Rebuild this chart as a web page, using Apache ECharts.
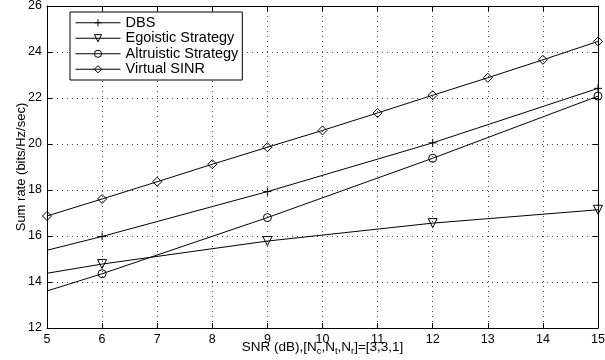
<!DOCTYPE html>
<html>
<head>
<meta charset="utf-8">
<script src="https://cdn.jsdelivr.net/npm/echarts@6/dist/echarts.min.js"></script>
<style>
  html, body { margin: 0; padding: 0; background: #fff; }
  #chart { width: 605px; height: 360px; }
</style>
</head>
<body>
<div id="chart"></div>
<script>
const snr = [5, 6, 7, 8, 9, 10, 11, 12, 13, 14, 15];
const dbsX = [5, 6, 9, 12, 15];
const dbs = [15.38, 15.98, 17.93, 20.05, 22.42];
const egoistic = [14.38, 14.78, 15.78, 16.56, 17.14];
const altruistic = [13.61, 14.36, 16.8, 19.38, 22.08];
const virtualSinr = [16.87, 17.61, 18.36, 19.12, 19.86, 20.59, 21.35, 22.12, 22.88, 23.66, 24.46];
const names = ['DBS', 'Egoistic Strategy', 'Altruistic Strategy', 'Virtual SINR'];

const font = 'Liberation Sans, Arial, sans-serif';
const plus = 'path://M0,5L10,5M5,0L5,10';
const triDown = 'path://M0,0L10,0L5,8.7Z';

// the first point sits on the y axis and carries no marker, except for Virtual SINR
function pts(xs, ys, markFirst) {
  return xs.map((x, i) => (i === 0 && !markFirst)
    ? { value: [x, ys[i]], symbol: 'none' }
    : [x, ys[i]]);
}

function line(name, data, symbol, size) {
  return {
    name, type: 'line', data, symbol, symbolSize: size,
    showAllSymbol: true,
    lineStyle: { color: '#000', width: 1 },
    itemStyle: { color: 'rgba(0,0,0,0)', borderColor: '#000', borderWidth: 1 },
    emphasis: { disabled: true },
    z: 3
  };
}

const chart = echarts.init(document.getElementById('chart'));

const tickStyle = { show: true, inside: true, length: 5, lineStyle: { color: '#000' } };
const gridLine = { show: true, lineStyle: { color: '#444', type: [1, 4], width: 1 } };

chart.setOption({
  animation: false,
  backgroundColor: '#fff',
  textStyle: { fontFamily: font },
  grid: { left: 47, right: 7, top: 6, bottom: 32, outerBoundsMode: 'none', containLabel: false },
  legend: {
    data: names,
    orient: 'vertical',
    left: 70, top: 12,
    itemWidth: 45, itemHeight: 9, itemGap: 0,
    padding: [3, 4, 3, 5],
    borderColor: '#000', borderWidth: 1,
    backgroundColor: '#fff',
    lineStyle: { width: 1, color: '#000' },
    itemStyle: { borderWidth: 1, borderColor: '#000', color: 'rgba(0,0,0,0)' },
    textStyle: { fontFamily: font, fontSize: 14.5, lineHeight: 15.5, color: '#000' }
  },
  xAxis: [{
    type: 'value', min: 5, max: 15, interval: 1,
    name: 'SNR (dB),[N{s|c},N{s|t},N{s|r}]=[3,3,1]',
    nameLocation: 'middle', nameGap: 11, nameMoveOverlap: false,
    nameTextStyle: {
      fontFamily: font, fontSize: 13.5, color: '#000',
      rich: { s: { fontSize: 9.5, fontFamily: font, color: '#000', padding: [7, 0, 0, 0] } }
    },
    axisLine: { show: true, lineStyle: { color: '#000' } },
    axisTick: tickStyle,
    axisLabel: { fontSize: 12.5, color: '#000', margin: 5, fontFamily: font },
    splitLine: gridLine
  }, {
    type: 'value', min: 5, max: 15, interval: 1, position: 'top',
    axisLine: { show: true, lineStyle: { color: '#000' } },
    axisTick: tickStyle, axisLabel: { show: false }, splitLine: { show: false }
  }],
  yAxis: [{
    type: 'value', min: 12, max: 26, interval: 2,
    name: 'Sum rate (bits/Hz/sec)',
    nameLocation: 'middle', nameGap: 19, nameRotate: 90, nameMoveOverlap: false,
    nameTextStyle: { fontFamily: font, fontSize: 13, color: '#000' },
    axisLine: { show: true, lineStyle: { color: '#000' } },
    axisTick: tickStyle,
    axisLabel: { fontSize: 12.5, color: '#000', margin: 5, fontFamily: font },
    splitLine: gridLine
  }, {
    type: 'value', min: 12, max: 26, interval: 2, position: 'right',
    axisLine: { show: true, lineStyle: { color: '#000' } },
    axisTick: tickStyle, axisLabel: { show: false }, splitLine: { show: false }
  }],
  series: [
    line(names[0], pts(dbsX, dbs, false), plus, 8),
    line(names[1], pts(dbsX, egoistic, false), triDown, 9),
    line(names[2], pts(dbsX, altruistic, false), 'circle', 8),
    line(names[3], pts(snr, virtualSinr, true), 'diamond', 9)
  ]
});

window.addEventListener('resize', () => chart.resize());
</script>
</body>
</html>
